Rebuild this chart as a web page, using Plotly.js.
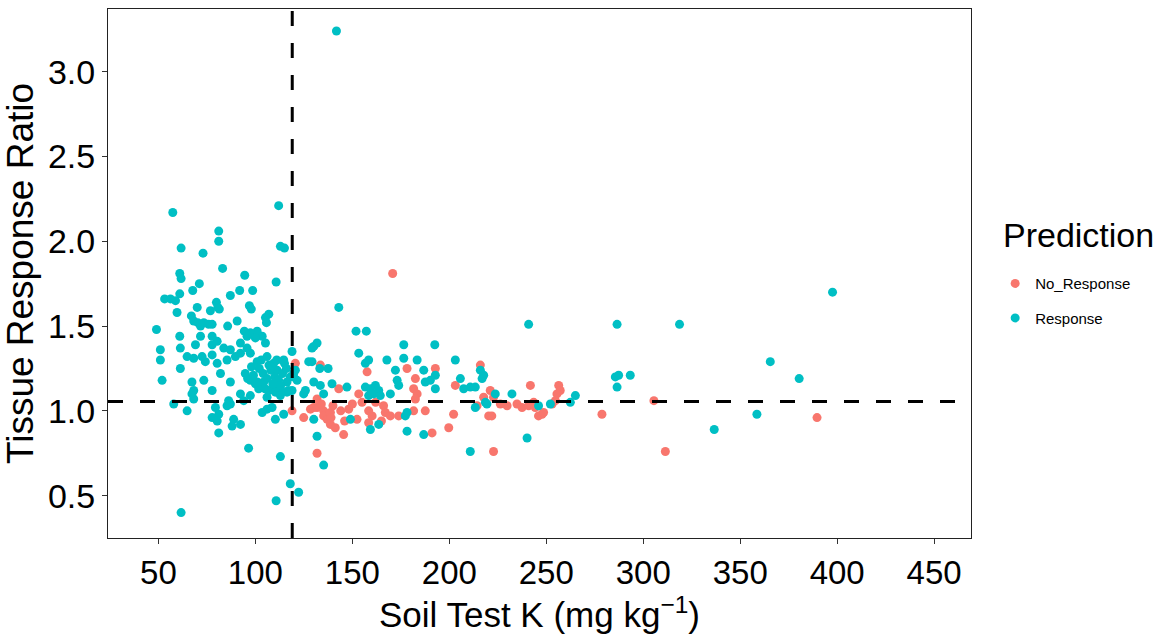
<!DOCTYPE html>
<html>
<head>
<meta charset="utf-8">
<script src="https://cdn.plot.ly/plotly-3.0.1.min.js"></script>
<style>html,body{margin:0;padding:0;background:#fff;}#chart{width:1168px;height:643px;}</style>
</head>
<body>
<div id="chart"></div>
<script>
// Response (cyan) points: soil test K and tissue response ratio
const respX = [57.4,112.0,81.1,81.1,61.7,73.0,112.9,115.0,83.1,61.0,61.7,94.5,71.1,110.7,67.7,61.0,91.9,98.6,87.1,53.2,56.2,58.8,79.9,80.6,81.4,70.0,96.9,97.9,59.6,76.8,106.9,105.2,105.7,67.0,68.2,70.3,71.7,73.4,75.9,77.7,85.7,90.6,49.0,61.0,71.7,77.7,94.3,97.4,100.9,103.5,
61.3,51.0,51.0,69.1,77.7,80.3,83.7,87.1,92.3,95.7,100.0,105.2,64.8,68.2,72.5,74.2,77.7,80.3,82.0,85.4,89.7,92.3,95.7,97.4,100.9,106.0,109.4,111.2,114.6,118.9,61.3,51.9,67.3,68.2,73.4,77.7,87.1,94.8,97.4,100.0,101.7,104.3,106.9,109.4,112.9,116.3,118.0,119.7,92.3,97.4,94.0,106.0,110.3,112.9,116.3,118.9,57.9,64.8,68.2,67.3,79.4,85.4,86.2,87.1,77.7,81.1,80.3,88.8,88.0,92.3,81.1,103.5,106.0,108.6,110.3,114.6,96.5,112.9,118.0,122.3,110.7,61.7,130.1,129.2,130.1,125.8,130.1,131.8,
102,104,106,108,110,112,114,116,109,113,103,107,111,115,117,105,99,98,96,101,
143.0,151.9,157.2,129.2,131.8,153.3,158.4,156.7,127.5,133.2,137.5,167.8,176.5,176.5,183.4,192.5,203.1,186.8,172.2,173.1,173.9,192.8,190.2,187.6,205.7,192.8,120.6,119.7,121.5,133.5,139.5,124.9,135.2,147.2,156.7,159.3,161.9,163.6,161.0,158.4,164.4,169.6,177.3,178.2,135.2,186.8,210.8,213.4,207.4,210.8,213.4,217.7,216.9,218.6,149.0,159.3,163.6,178.2,
240.9,286.5,318.7,285.6,287.3,293.3,286.5,216.0,223.7,232.3,219.4,246.0,252.1,262.4,265.0,240.1,
397.6,365.5,380.4,358.6,336.6,141.8];
const respY = [2.17,2.21,2.06,2.00,1.96,1.93,1.97,1.96,1.84,1.81,1.78,1.80,1.75,1.76,1.71,1.69,1.71,1.71,1.68,1.66,1.66,1.65,1.64,1.61,1.60,1.61,1.62,1.60,1.58,1.59,1.57,1.55,1.52,1.56,1.53,1.52,1.50,1.52,1.51,1.51,1.50,1.53,1.48,1.44,1.44,1.44,1.47,1.46,1.47,1.44,
1.37,1.36,1.30,1.39,1.39,1.41,1.37,1.36,1.40,1.44,1.43,1.40,1.32,1.31,1.32,1.29,1.33,1.28,1.22,1.30,1.32,1.34,1.37,1.34,1.29,1.32,1.28,1.24,1.30,1.35,1.25,1.18,1.17,1.12,1.18,1.12,1.17,1.22,1.18,1.16,1.13,1.17,1.12,1.15,1.13,1.17,1.20,1.22,1.10,1.09,1.06,1.08,1.11,1.09,1.11,1.12,1.04,1.00,1.07,1.10,1.02,1.03,1.06,1.04,0.96,0.98,0.94,0.95,0.91,0.92,0.87,0.99,1.01,1.02,0.95,0.98,0.78,0.73,0.57,0.52,0.47,0.40,1.38,1.29,1.17,1.12,0.95,0.85,
1.25,1.22,1.19,1.24,1.20,1.18,1.22,1.25,1.16,1.15,1.30,1.27,1.30,1.28,1.12,1.13,1.21,1.26,1.19,1.17,
1.61,1.47,1.47,1.37,1.40,1.34,1.30,1.28,1.29,1.25,1.25,1.30,1.39,1.31,1.30,1.39,1.30,1.24,1.24,1.18,1.15,1.21,1.18,1.17,1.19,1.13,1.24,1.20,1.18,1.15,1.16,1.10,1.10,1.14,1.14,1.13,1.15,1.12,1.10,1.09,1.09,1.10,0.97,0.88,0.68,0.86,0.76,1.02,1.13,1.14,1.14,1.21,1.19,1.05,0.95,0.89,0.92,0.99,
1.51,1.51,1.51,1.20,1.21,1.21,1.14,1.24,1.10,1.10,1.04,1.03,1.04,1.05,1.09,0.84,
1.70,1.29,1.19,0.98,0.89,3.24];

// No_Response (red) points
const noRespX = [120.6,118.9,124.9,130.1,131.8,131.8,133.5,157.6,178.2,182.5,192.8,203.1,216.0,221.1,143.0,153.3,128.4,131.8,135.2,135.2,137.0,138.7,141.2,145.5,138.7,148.1,152.4,158.4,160.2,158.4,166.1,167.0,169.6,173.9,181.6,183.4,182.5,181.6,187.6,191.1,199.7,202.2,214.3,217.7,220.3,170.8,
222.8,221.9,222.8,226.3,229.8,234.9,237.5,240.9,243.5,244.3,241.8,246.0,247.8,248.6,256.4,257.2,255.5,254.7,253.0,278.7,305.5,311.4,389.6,
134,140,144,139,146,150,155,162,165];
const noRespY = [1.28,1.00,0.96,1.02,1.07,0.75,1.27,1.23,1.25,1.19,1.25,1.15,1.27,1.12,1.13,1.10,1.01,1.02,1.00,0.97,0.95,0.92,0.90,0.86,0.99,1.01,0.95,1.00,0.97,0.93,1.03,0.99,0.97,0.97,1.13,1.10,1.07,1.00,1.00,0.87,0.90,0.98,1.03,1.08,0.97,1.81,
1.08,0.97,0.76,1.04,1.03,1.04,1.02,1.03,1.05,1.02,1.15,0.97,0.98,0.99,1.15,1.12,1.10,1.06,1.04,0.98,1.06,0.76,0.96,
1.04,1.03,1.00,0.96,0.94,1.04,1.05,1.05,0.94];

const xTicks = [50,100,150,200,250,300,350,400,450];
const yTicks = [0.5,1.0,1.5,2.0,2.5,3.0];
const xCut = 119;
const yCut = 1.055;

const FONT = "'Liberation Sans', Arial, sans-serif";

const traces = [
  {type:'scatter', mode:'markers', name:'No_Response', x:noRespX, y:noRespY, legendgroup:'a',
   marker:{color:'#F8766D', size:9}, hoverinfo:'x+y'},
  {type:'scatter', mode:'markers', name:'Response', x:respX, y:respY, legendgroup:'b',
   marker:{color:'#00BFC4', size:9}, hoverinfo:'x+y'}
];

const layout = {
  width:1168, height:643,
  margin:{l:108, r:197, t:9, b:105},
  paper_bgcolor:'#fff', plot_bgcolor:'#fff',
  font:{family:FONT, color:'#000'},
  showlegend:true,
  legend:{x:1.028, xanchor:'left', y:0.512, yanchor:'top',
    font:{size:15, color:'#000'}, tracegroupgap:12},
  annotations:[
    {text:'Prediction', xref:'paper', yref:'paper', x:1.125, y:0.573, xanchor:'center', yanchor:'middle',
     showarrow:false, font:{size:34, color:'#000'}}
  ],
  xaxis:{range:[24,469], tickvals:xTicks, ticktext:xTicks.map(String),
    showgrid:false, zeroline:false, showline:true, mirror:true, linecolor:'#222', linewidth:1,
    ticks:'outside', ticklen:5, tickcolor:'#333', tickfont:{size:33, color:'#000'},
    title:{text:'Soil Test K (mg kg<sup>−1</sup>)', font:{size:35, color:'#000'}, standoff:8}},
  yaxis:{range:[0.25,3.37], tickvals:yTicks, ticktext:yTicks.map(v=>v.toFixed(1)),
    showgrid:false, zeroline:false, showline:true, mirror:true, linecolor:'#222', linewidth:1,
    ticks:'outside', ticklen:5, tickcolor:'#333', tickfont:{size:34, color:'#000'},
    title:{text:'Tissue Response Ratio', font:{size:37, color:'#000'}, standoff:2}},
  shapes:[
    {type:'line', xref:'x', yref:'paper', x0:xCut, x1:xCut, y0:0, y1:1, layer:'above',
     line:{color:'#000', width:3, dash:'15px,17px'}},
    {type:'line', xref:'paper', yref:'y', x0:0, x1:1, y0:yCut, y1:yCut, layer:'above',
     line:{color:'#000', width:3, dash:'15px,17px'}}
  ]
};

Plotly.newPlot('chart', traces, layout, {displayModeBar:false, staticPlot:true});
</script>
</body>
</html>
